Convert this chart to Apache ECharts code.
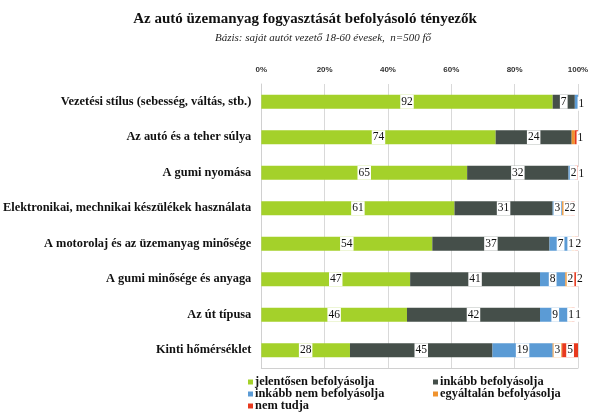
<!DOCTYPE html>
<html><head><meta charset="utf-8">
<script src="https://cdn.jsdelivr.net/npm/echarts@6/dist/echarts.min.js"></script>
<style>html,body{margin:0;padding:0;background:#fff}#c{width:598px;height:420px}</style>
</head><body><div id="c"></div>
<script>
var categories = ["Vezetési stílus (sebesség, váltás, stb.)","Az autó és a teher súlya","A gumi nyomása","Elektronikai, mechnikai készülékek használata","A motorolaj és az üzemanyag minősége","A gumi minősége és anyaga","Az út típusa","Kinti hőmérséklet"];
var seriesNames = ["jelentősen befolyásolja","inkább befolyásolja","inkább nem befolyásolja","egyáltalán befolyásolja","nem tudja"];
var jelentosen = [92,74,65,61,54,47,46,28];
var inkabb = [7,24,32,31,37,41,42,45];
var inkabbNem = [1,0,2,3,7,8,9,19];
var egyaltalan = [0,1,0,2,1,2,1,3];
var nemTudja = [0,1,1,2,2,2,1,5];
var tickLabels = ["0%","20%","40%","60%","80%","100%"];
var colors = ["#a4d12a","#454f4a","#5b9bd5","#f0932e","#e8391e"];

var serif = "'Liberation Serif', 'DejaVu Serif', serif";
var allData = [jelentosen, inkabb, inkabbNem, egyaltalan, nemTudja];
var hideLabel = {"3-1": true};
var labelOffset = {"2-0":[5,2], "4-1":[4,1], "2-2":[2,0], "4-2":[5,1], "3-3":[2,0], "4-3":[1,0],
  "3-4":[-2,0], "4-4":[2,0], "3-5":[2,0], "4-5":[5,0], "3-6":[1,0], "4-6":[5,0], "2-6":[1,0]};
var series = allData.map(function(arr, si){
  return {
    name: seriesNames[si], type: 'bar', stack: 'all', barWidth: 14,
    itemStyle: {color: colors[si]},
    data: arr.map(function(v, ci){
      var it = {value: v};
      var k = si + '-' + ci;
      if (v === 0 || hideLabel[k]) it.label = {show: false};
      else if (labelOffset[k]) it.label = {offset: labelOffset[k]};
      return it;
    }),
    label: {show: true, position: 'inside', color: '#111', fontFamily: serif, fontSize: 11.5,
      backgroundColor: '#fff', padding: [1, 1, 0, 1], lineHeight: 13}
  };
});
var legendText = {fontFamily: serif, fontWeight: 'bold', fontSize: 12.4, lineHeight: 10.5, color: '#111', padding: [0,0,0,-3]};
var chart = echarts.init(document.getElementById('c'), null, {renderer: 'canvas'});
chart.setOption({
  animation: false,
  color: colors,
  title: [{text: 'Az autó üzemanyag fogyasztását befolyásoló tényezők', left: 300, textAlign: 'center', top: 7,
    textStyle: {fontFamily: serif, fontSize: 15, fontWeight: 'bold', color: '#111'}},
    {text: 'Bázis: saját autót vezető 18-60 évesek,  n=500 fő', left: 318, textAlign: 'center', top: 28,
    textStyle: {fontFamily: serif, fontSize: 11, fontStyle: 'italic', fontWeight: 'normal', color: '#222'}}],
  grid: {left: 261, right: 20, top: 84, bottom: 52},
  xAxis: [{type: 'value', position: 'top', min: 0, max: 100, interval: 20,
    axisLine: {show: false}, axisTick: {show: false},
    axisLabel: {formatter: function(v){ return tickLabels[v/20]; }, fontSize: 8, fontWeight: 'bold', color: '#333', fontFamily: "'Liberation Sans', sans-serif", margin: 10},
    splitLine: {lineStyle: {color: '#d9d9d9'}}},
    {type: 'value', position: 'bottom', min: 0, max: 100, axisLine: {show: true, lineStyle: {color: '#d0d0d0'}}, axisTick: {show: false}, axisLabel: {show: false}, splitLine: {show: false}}],
  yAxis: {type: 'category', inverse: true, data: categories,
    axisLine: {lineStyle: {color: '#d0d0d0'}}, axisTick: {length: 4, lineStyle: {color: '#d0d0d0'}},
    axisLabel: {fontFamily: serif, fontWeight: 'bold', fontSize: 12.4, color: '#111', margin: 10}},
  legend: [{data: [seriesNames[0], seriesNames[2], seriesNames[4]], orient: 'vertical', left: 248, top: 376, height: 44, padding: 0, itemGap: 0,
      itemWidth: 5, itemHeight: 5, icon: 'rect', textStyle: legendText},
    {data: [seriesNames[1], seriesNames[3]], orient: 'vertical', left: 433, top: 376, height: 44, padding: 0, itemGap: 0,
      itemWidth: 5, itemHeight: 5, icon: 'rect', textStyle: legendText}],
  series: series
});
</script></body></html>
